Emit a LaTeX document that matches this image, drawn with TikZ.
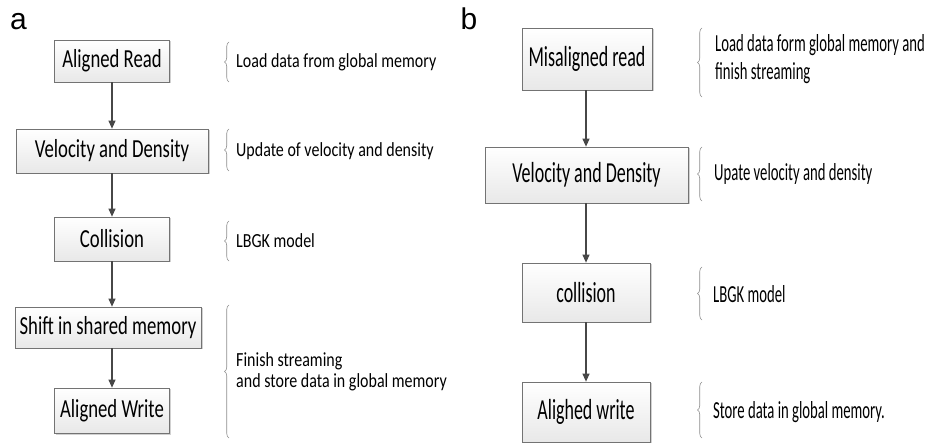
\documentclass[tikz,border=0pt]{standalone}
\usepackage{fontspec}
\setmainfont{Carlito}
\newfontfamily\panelfont{Liberation Sans}
% condensed cuts of Carlito for the two panels
\newfontfamily\aboxfont[FakeStretch=0.72]{Carlito}
\newfontfamily\anotefont[FakeStretch=0.8]{Carlito}
\newfontfamily\bboxfont[FakeStretch=0.62]{Carlito}
\newfontfamily\bnotefont[FakeStretch=0.6]{Carlito}
\usetikzlibrary{arrows.meta,shadows,decorations.pathreplacing}

\tikzset{
  box/.style={draw=black!55, line width=0.7pt, top color=white, bottom color=black!9,
    drop shadow={shadow xshift=1.5pt, shadow yshift=-1.5pt, fill=black!40, opacity=0.45},
    inner sep=0pt, align=center},
  abox/.style={box, font=\aboxfont\fontsize{26}{28}\selectfont},
  bbox/.style={box, font=\bboxfont\fontsize{29}{31}\selectfont},
  flow/.style={draw=black!72, line width=1.1pt, -{Triangle[length=8pt,width=7pt]}},
  curly/.style={draw=black!45, line width=0.6pt, decorate, decoration={brace, amplitude=4.5pt}},
  anote/.style={anchor=west, align=left, inner sep=0pt, font=\anotefont\fontsize{20}{21}\selectfont},
  bnote/.style={anchor=west, align=left, inner sep=0pt, font=\bnotefont\fontsize{24.5}{28}\selectfont},
  tag/.style={anchor=center, inner sep=0pt, font=\panelfont\fontsize{30}{32}\selectfont}
}

\begin{document}
\begin{tikzpicture}[x=1pt, y=-1pt]
\useasboundingbox (0,0) rectangle (937,443);

% ---------- panel a ----------
\node[tag] (ta) at (18.5,22) {a};
\node[abox, minimum width=115pt, minimum height=42pt] (a1) at (112,61) {Aligned Read};
\node[abox, minimum width=192pt, minimum height=44pt] (a2) at (112,151) {Velocity and Density};
\node[abox, minimum width=115pt, minimum height=44pt] (a3) at (112,239) {Collision};
\node[abox, minimum width=186pt, minimum height=41pt] (a4) at (108,327.5) {Shift in shared memory};
\node[abox, minimum width=115pt, minimum height=45pt] (a5) at (112,410.5) {Aligned Write};

\draw[flow] (a1.south -| 112,0) -- (a2.north -| 112,0);
\draw[flow] (a2) -- (a3);
\draw[flow] (a3.south -| 112,0) -- (a4.north -| 112,0);
\draw[flow] (a4.south -| 112,0) -- (a5.north -| 112,0);

\coordinate (ab1t) at (229,42);  \coordinate (ab1b) at (229,82);
\coordinate (ab2t) at (229,129); \coordinate (ab2b) at (229,171);
\coordinate (ab3t) at (229,221); \coordinate (ab3b) at (229,261);
\coordinate (ab4t) at (229,305); \coordinate (ab4b) at (229,438);
\draw[curly] (ab1b) -- (ab1t);
\draw[curly] (ab2b) -- (ab2t);
\draw[curly] (ab3b) -- (ab3t);
\draw[curly] (ab4b) -- (ab4t);

\node[anote] (an1) at (236,62) {Load data from global memory};
\node[anote] (an2) at (236,151) {Update of velocity and density};
\node[anote] (an3) at (236,241) {LBGK model};
\node[anote] (an4) at (236,372) {Finish streaming\\and store data in global memory};

% ---------- panel b ----------
\node[tag] (tb) at (469,19) {b};
\node[bbox, minimum width=130pt, minimum height=62pt] (b1) at (587,59) {Misaligned read};
\node[bbox, minimum width=203pt, minimum height=56pt] (b2) at (586.5,175) {Velocity and Density};
\node[bbox, minimum width=128pt, minimum height=59pt] (b3) at (586,292.5) {collision};
\node[bbox, minimum width=128pt, minimum height=60pt] (b4) at (586,412) {Alighed write};

\draw[flow] (b1.south -| 586,0) -- (b2.north -| 586,0);
\draw[flow] (b2.south -| 586,0) -- (b3.north -| 586,0);
\draw[flow] (b3.south -| 586,0) -- (b4.north -| 586,0);

\coordinate (bb1t) at (702,28);  \coordinate (bb1b) at (702,97);
\coordinate (bb2t) at (702,147); \coordinate (bb2b) at (702,201);
\coordinate (bb3t) at (702,267); \coordinate (bb3b) at (702,320);
\coordinate (bb4t) at (702,382); \coordinate (bb4b) at (702,438);
\draw[curly] (bb1b) -- (bb1t);
\draw[curly] (bb2b) -- (bb2t);
\draw[curly] (bb3b) -- (bb3t);
\draw[curly] (bb4b) -- (bb4t);

\node[bnote] (bn1) at (715,59) {Load data form global memory and\\finish streaming};
\node[bnote] (bn2) at (714,174) {Upate velocity and density};
\node[bnote] (bn3) at (713,294) {LBGK model};
\node[bnote] (bn4) at (713,412) {Store data in global memory.};
\end{tikzpicture}
\end{document}
